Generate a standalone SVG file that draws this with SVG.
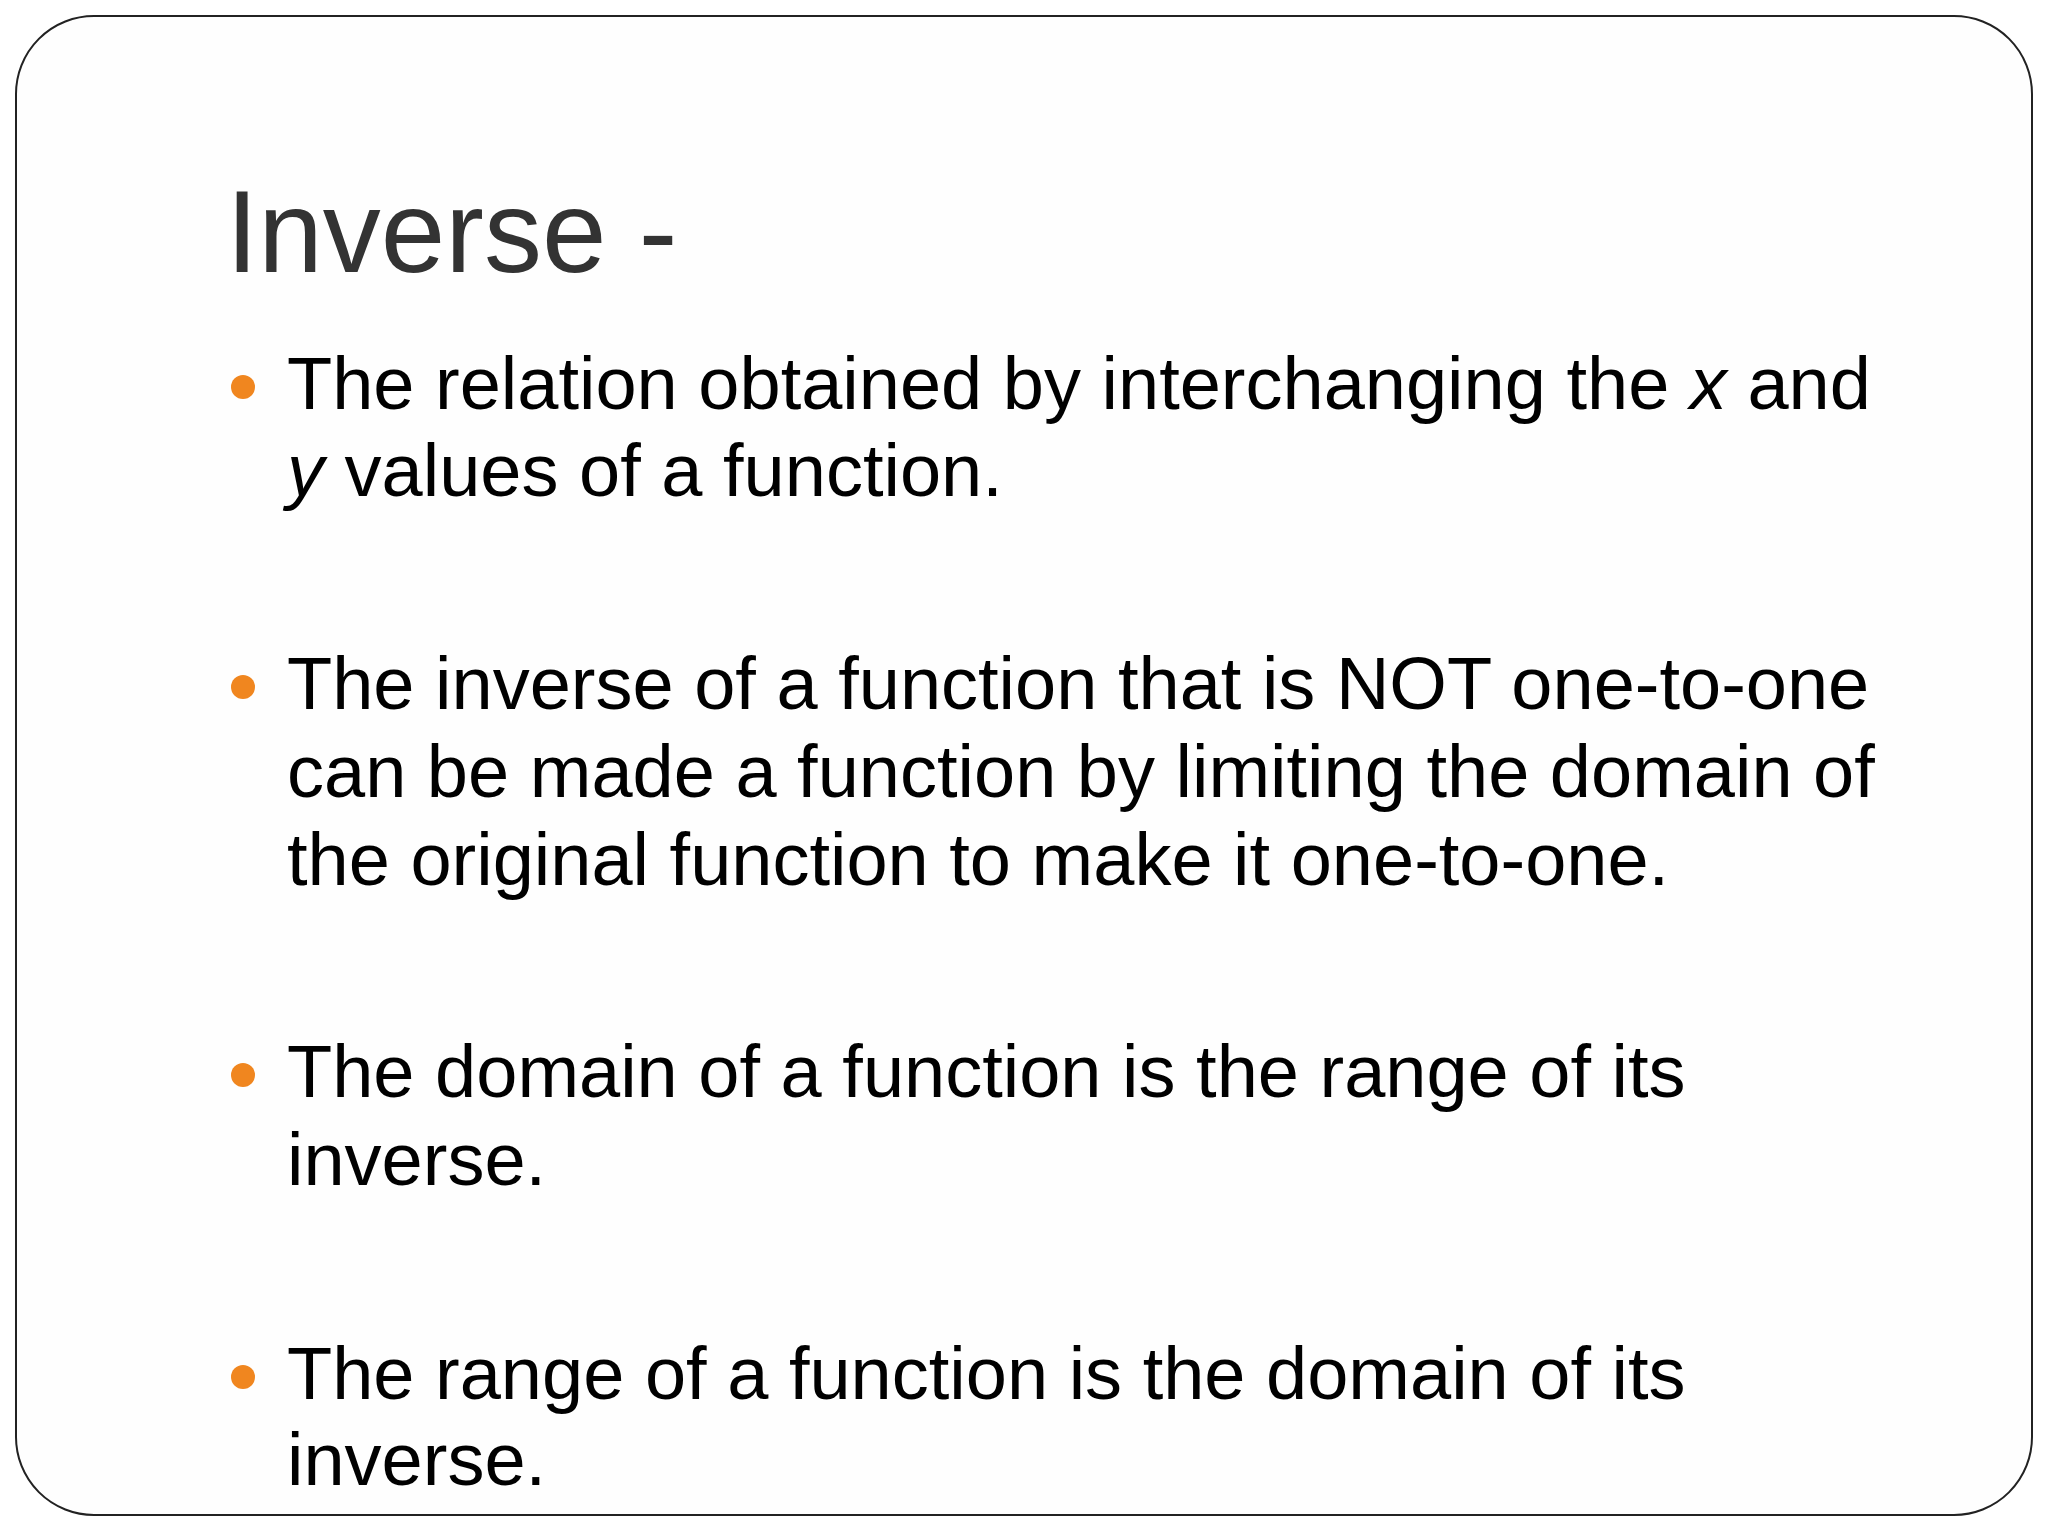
<svg xmlns="http://www.w3.org/2000/svg" width="2048" height="1536" viewBox="0 0 2048 1536">
<style>
.t{font-family:"Liberation Sans",Arial,sans-serif;font-size:74px;fill:#000}
.h{font-family:"Liberation Sans",Arial,sans-serif;font-size:116px;fill:#333}
.b{fill:#F0861F}
</style>
<rect width="2048" height="1536" fill="#fff"/>
<rect x="16" y="16" width="2016" height="1499" rx="78" fill="#fefefe" stroke="#222" stroke-width="2"/>
<text class="h" x="226" y="272">Inverse -</text>
<g id="b1"><circle class="b" cx="243" cy="387" r="12"/>
<text class="t" x="287" y="409">The relation obtained by interchanging the <tspan font-style="italic">x</tspan> and</text>
<text class="t" x="287" y="496"><tspan font-style="italic">y</tspan> values of a function.</text></g>
<g id="b2"><circle class="b" cx="243" cy="687" r="12"/>
<text class="t" x="287" y="709">The inverse of a function that is NOT one-to-one</text>
<text class="t" x="287" y="797">can be made a function by limiting the domain of</text>
<text class="t" x="287" y="885">the original function to make it one-to-one.</text></g>
<g id="b3"><circle class="b" cx="243" cy="1075" r="12"/>
<text class="t" x="287" y="1097">The domain of a function is the range of its</text>
<text class="t" x="287" y="1185">inverse.</text></g>
<g id="b4"><circle class="b" cx="243" cy="1377" r="12"/>
<text class="t" x="287" y="1399">The range of a function is the domain of its</text>
<text class="t" x="287" y="1485">inverse.</text></g>
</svg>
